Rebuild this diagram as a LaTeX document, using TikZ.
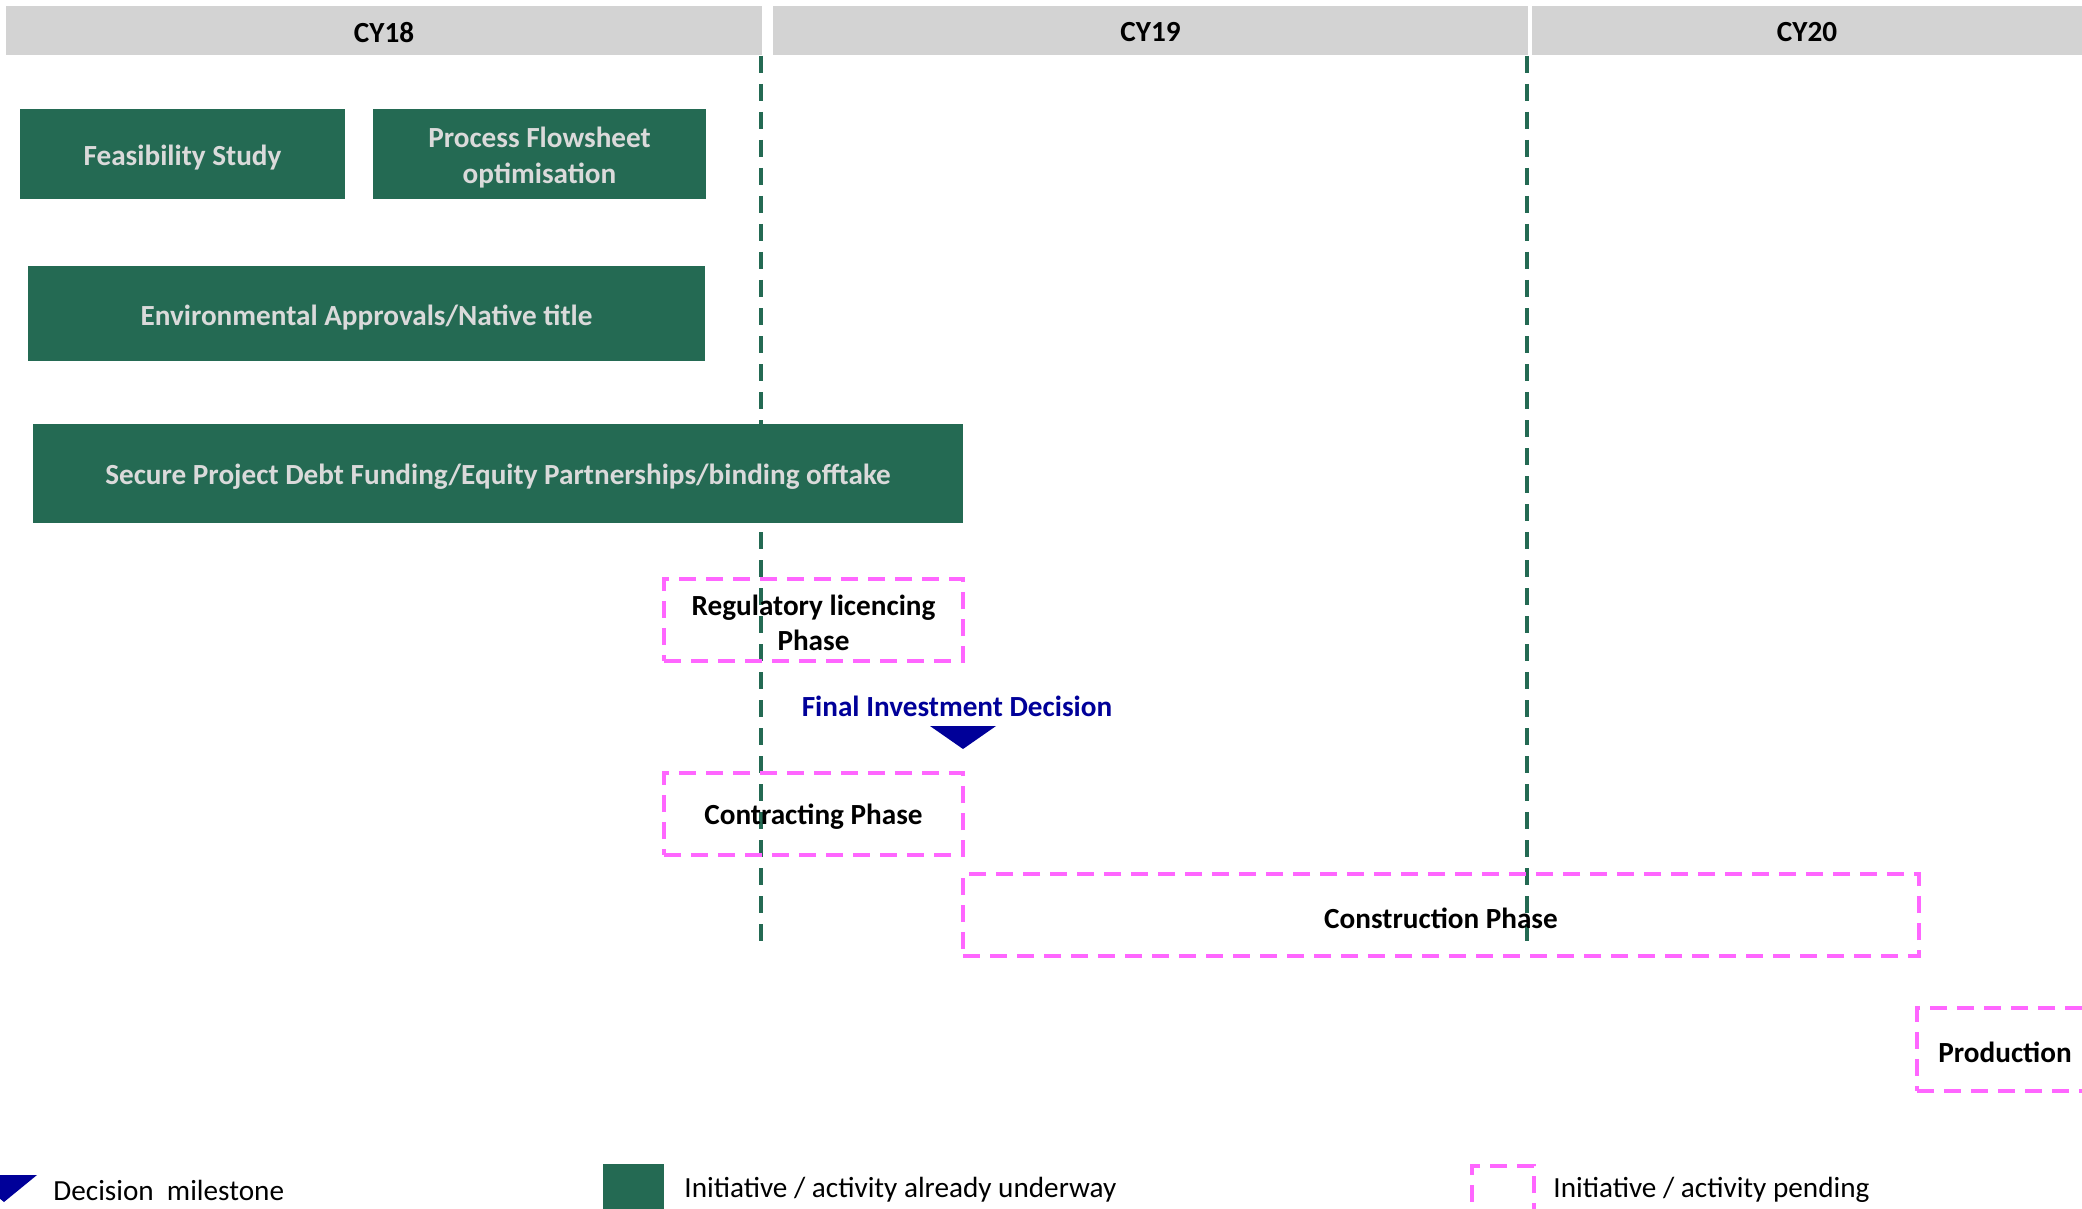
\documentclass[tikz,border=0pt]{standalone}
\usepackage{fontspec}
\setmainfont{Carlito}
\usetikzlibrary{fit}
\definecolor{gantgreen}{HTML}{246A53}
\definecolor{hdrgray}{HTML}{D3D3D3}
\definecolor{pendpink}{HTML}{FF66FF}
\definecolor{fidblue}{HTML}{000099}
\definecolor{boxtext}{HTML}{DADADA}
\begin{document}
\begin{tikzpicture}[x=0.5pt,y=-0.5pt,
  bfont/.style={font=\fontsize{14.6}{17.6}\selectfont\bfseries},
  rfont/.style={font=\fontsize{14.6}{17.6}\selectfont},
  hdrbox/.style={fill=hdrgray, inner sep=0pt},
  hdrtext/.style={bfont, text=black, inner sep=0pt, yshift=-0.8pt},
  donebox/.style={fill=gantgreen, inner sep=0pt},
  donetext/.style={bfont, text=boxtext, align=center, inner sep=0pt, yshift=-1.8pt},
  pendbox/.style={draw=pendpink, line width=1.75pt, dash pattern=on 8.5pt off 5pt, inner sep=0pt},
  pendtext/.style={bfont, text=black, align=center, inner sep=0pt, yshift=-1.5pt},
  yearline/.style={draw=gantgreen, line width=1.8pt, dash pattern=on 8.5pt off 5.5pt},
  legtext/.style={rfont, anchor=west, inner sep=0pt, text=black}
]
\clip (0,0) rectangle (2082,1209);
\fill[white] (0,0) rectangle (2082,1209);

% year headers
\node[hdrbox, fit={(6,6) (762,55)}] (cy18) {};
\node[hdrbox, fit={(773,6) (1528,55)}] (cy19) {};
\node[hdrbox, fit={(1532,6) (2082,55)}] (cy20) {};
\node[hdrtext] (cy18t) at (cy18.center) {CY18};
\node[hdrtext] (cy19t) at (cy19.center) {CY19};
\node[hdrtext] (cy20t) at (cy20.center) {CY20};

% year boundary lines
\coordinate (l1top) at (761,56);
\coordinate (l1bot) at (761,949);
\coordinate (l2top) at (1527,56);
\coordinate (l2bot) at (1527,942);
\draw[yearline] (l1top) -- (l1bot);
\draw[yearline] (l2top) -- (l2bot);

% activities already underway
\node[donebox, fit={(20,109) (345,199)}] (feas) {};
\node[donebox, fit={(373,109) (706,199)}] (flow) {};
\node[donebox, fit={(28,266) (705,361)}] (env) {};
\node[donebox, fit={(33,424) (963,523)}] (fund) {};
\node[donetext] (feast) at (feas.center) {Feasibility Study};
\node[donetext] (flowt) at (flow.center) {Process Flowsheet\\optimisation};
\node[donetext] (envt) at (env.center) {Environmental Approvals/Native title};
\node[donetext] (fundt) at (fund.center) {Secure Project Debt Funding/Equity Partnerships/binding offtake};

% pending activities
\node[pendbox, fit={(664,579) (963,661)}] (reg) {};
\node[pendbox, fit={(664,773) (963,855)}] (contr) {};
\node[pendbox, fit={(963,874) (1919,956)}] (constr) {};
\node[pendbox, fit={(1917,1008) (2093,1091)}] (prod) {};
\node[pendtext] (regt) at (reg.center) {Regulatory licencing\\Phase};
\node[pendtext] (contrt) at (contr.center) {Contracting Phase};
\node[pendtext] (constrt) at (constr.center) {Construction Phase};
\node[pendtext] (prodt) at (prod.center) {Production};

% final investment decision
\node[bfont, text=fidblue, inner sep=0pt] (fid) at (957,706) {Final Investment Decision};
\fill[fidblue] (930,726) -- (996,726) -- (963,749) -- cycle;

% legend
\fill[fidblue] (-29,1175) -- (37,1175) -- (4,1202) -- cycle;
\node[legtext] (legfid) at (53,1190) {Decision\ \ milestone};
\node[donebox, fit={(603,1164) (664,1212)}] (legdone) {};
\node[legtext] (legdonet) at (684,1190) {Initiative / activity already underway};
\node[pendbox, fit={(1472,1166) (1534,1212)}] (legpend) {};
\node[legtext] (legpendt) at (1553,1190) {Initiative / activity pending};
\end{tikzpicture}
\end{document}
